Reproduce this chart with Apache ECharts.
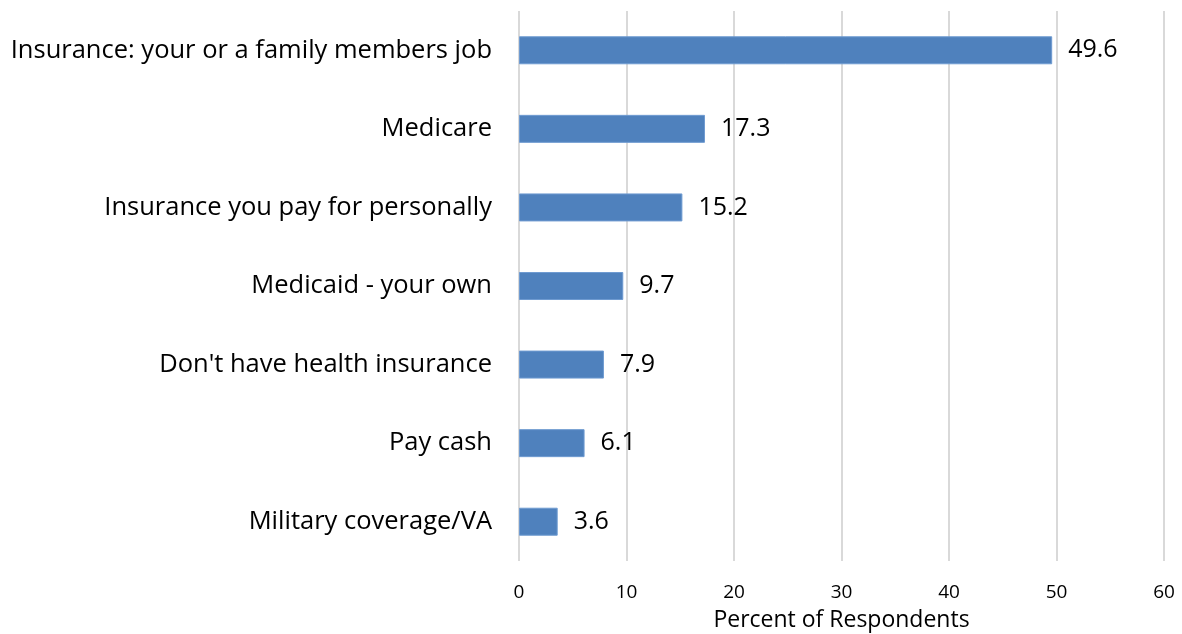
<!DOCTYPE html>
<html><head><meta charset="utf-8">
<script src="https://cdn.jsdelivr.net/npm/echarts@6/dist/echarts.min.js"></script>
<style>html,body{margin:0;padding:0;background:#fff}#c{width:1182px;height:634px}</style>
</head><body><div id="c"></div>
<script>
const categories = ["Insurance: your or a family members job","Medicare","Insurance you pay for personally","Medicaid - your own","Don't have health insurance","Pay cash","Military coverage/VA"];
const values = [49.6,17.3,15.2,9.7,7.9,6.1,3.6];
const axisTitle = "Percent of Respondents";
const font = "'Open Sans', sans-serif";
const chart = echarts.init(document.getElementById('c'));
chart.setOption({
  animation:false,
  grid:{left:519,right:18,top:11,bottom:73,containLabel:false,outerBoundsMode:'none'},
  xAxis:{type:'value',min:0,max:60,interval:10,
    name:axisTitle,nameLocation:'middle',nameGap:48,
    nameTextStyle:{fontFamily:font,fontSize:23,color:'#000'},
    axisLine:{show:false},axisTick:{show:false},
    axisLabel:{fontFamily:font,fontSize:19,color:'#000',margin:22},
    splitLine:{lineStyle:{color:'#d9d9d9',width:2}}},
  yAxis:{type:'category',data:categories,inverse:true,
    axisLine:{show:false},axisTick:{show:false},
    axisLabel:{fontFamily:font,fontSize:25.5,color:'#000',margin:27}},
  series:[{type:'bar',data:values,barWidth:28,
    itemStyle:{color:'#4f81bd',borderColor:'#6f9bd1',borderWidth:1},
    label:{show:true,position:'right',distance:16,fontFamily:font,fontSize:25,color:'#000',formatter:p=>p.value.toFixed(1)}}]
});
</script></body></html>
